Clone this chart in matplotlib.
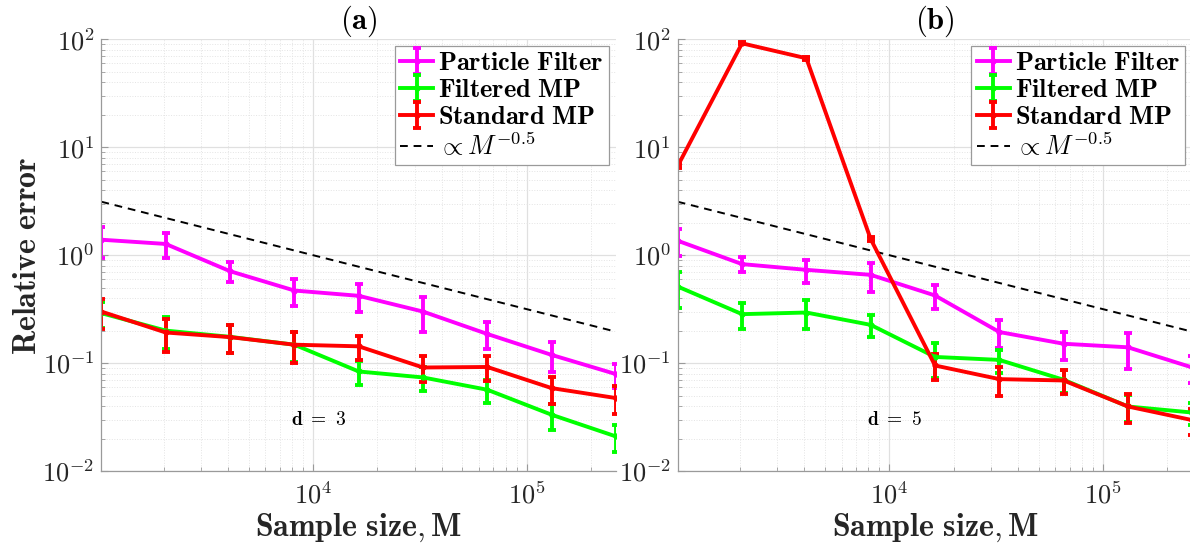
import matplotlib
matplotlib.use("Agg")
import matplotlib.pyplot as plt
import numpy as np
from matplotlib.ticker import FuncFormatter, LogLocator, NullFormatter

plt.rcParams['mathtext.fontset'] = 'cm'
plt.rcParams['font.family'] = 'serif'
plt.rcParams['font.serif'] = ['cmr10', 'DejaVu Serif']
plt.rcParams['axes.unicode_minus'] = False

# sample sizes
M = [1024, 2048, 4096, 8192, 16384, 32768, 65536, 131072, 262144]

# (a) d = 3
pf_a = [1.39, 1.27, 0.71, 0.47, 0.42, 0.30, 0.186, 0.119, 0.079]
pf_a_err = [0.45, 0.33, 0.15, 0.135, 0.12, 0.106, 0.052, 0.037, 0.02]
fmp_a = [0.29, 0.20, 0.175, 0.148, 0.0836, 0.0736, 0.0566, 0.0332, 0.0209]
fmp_a_err = [0.08, 0.065, 0.05, 0.045, 0.021, 0.019, 0.0135, 0.009, 0.0058]
sm_a = [0.30, 0.192, 0.174, 0.148, 0.143, 0.091, 0.092, 0.0586, 0.0474]
sm_a_err = [0.093, 0.066, 0.05, 0.048, 0.037, 0.0245, 0.0245, 0.0164, 0.0134]

# (b) d = 5
pf_b = [1.36, 0.826, 0.731, 0.657, 0.423, 0.194, 0.151, 0.14, 0.091]
pf_b_err = [0.38, 0.126, 0.18, 0.197, 0.104, 0.055, 0.045, 0.051, 0.025]
fmp_b = [0.512, 0.284, 0.294, 0.226, 0.114, 0.107, 0.07, 0.0396, 0.0348]
fmp_b_err = [0.187, 0.077, 0.087, 0.051, 0.041, 0.026, 0.017, 0.011, 0.008]
sm_b = [6.7, 91.8, 66.7, 1.41, 0.095, 0.071, 0.069, 0.0396, 0.0296]
sm_b_err = [0.3, 2.0, 2.0, 0.05, 0.0255, 0.021, 0.0178, 0.012, 0.008]

ref_const = 100.0  # reference line: ref_const * M^-0.5

txt = '#262626'
panels = [
    ('(a)', 'd\\ =\\ 3', pf_a, pf_a_err, fmp_a, fmp_a_err, sm_a, sm_a_err),
    ('(b)', 'd\\ =\\ 5', pf_b, pf_b_err, fmp_b, fmp_b_err, sm_b, sm_b_err),
]

fig = plt.figure(figsize=(11.9, 5.45), dpi=100)
W, H = 1190.0, 545.0
lefts = [101.4, 677.7]
for i, (title, dlabel, pf, pfe, fmp, fmpe, sm, sme) in enumerate(panels):
    ax = fig.add_axes([lefts[i] / W, (H - 471.0) / H, 514.6 / W, 431.7 / H])
    ax.set_xscale('log')
    ax.set_yscale('log')

    ekw = dict(lw=2.8, elinewidth=2.8, capsize=2.6, capthick=2.8, marker='o', ms=3.5)
    h1 = ax.errorbar(M, pf, yerr=pfe, color=(1, 0, 1), label=r'$\mathbf{Particle\ Filter}$', **ekw)
    h2 = ax.errorbar(M, fmp, yerr=fmpe, color=(0, 1, 0), label=r'$\mathbf{Filtered\ MP}$', **ekw)
    h3 = ax.errorbar(M, sm, yerr=sme, color=(1, 0, 0), label=r'$\mathbf{Standard\ MP}$', **ekw)
    Ma = np.array(M, dtype=float)
    h4, = ax.plot(Ma, ref_const * Ma ** -0.5, color='k', lw=1.4, ls=(0, (4, 3)),
                  label=r'$\propto M^{-0.5}$')

    ax.set_xlim(1024, 262144)
    ax.set_ylim(1e-2, 1e2)

    ax.xaxis.set_major_locator(LogLocator(base=10))
    ax.xaxis.set_minor_locator(LogLocator(base=10, subs=np.arange(2, 10)))
    ax.yaxis.set_major_locator(LogLocator(base=10))
    ax.yaxis.set_minor_locator(LogLocator(base=10, subs=np.arange(2, 10)))
    fmt = FuncFormatter(lambda v, p: r'$10^{%d}$' % int(round(np.log10(v))))
    ax.xaxis.set_major_formatter(fmt)
    ax.yaxis.set_major_formatter(fmt)
    ax.xaxis.set_minor_formatter(NullFormatter())
    ax.yaxis.set_minor_formatter(NullFormatter())

    ax.grid(True, which='major', color='#e0e0e0', lw=0.9, ls='-')
    ax.grid(True, which='minor', color='#e4e4e4', lw=0.7, ls=':')
    ax.set_axisbelow(True)
    for s in ['top', 'right']:
        ax.spines[s].set_visible(False)
    for s in ['left', 'bottom']:
        ax.spines[s].set_color('#9a9a9a')
        ax.spines[s].set_linewidth(0.9)
    ax.tick_params(which='both', direction='in', color='#9a9a9a', labelcolor=txt,
                   labelsize=19, pad=5)
    ax.tick_params(axis='x', which='major', pad=8)
    ax.tick_params(which='major', length=5)
    ax.tick_params(which='minor', length=3)

    ax.set_title(r'$\mathbf{%s}$' % title, fontsize=22, color='k', pad=7)
    ax.set_xlabel(r'$\mathbf{Sample\ size, M}$', fontsize=23, color=txt, labelpad=2)
    if i == 0:
        ax.set_ylabel(r'$\mathbf{Relative\ error}$', fontsize=23, color=txt, labelpad=0)
    ax.text(0.422, 0.118, r'$\mathbf{%s}$' % dlabel, transform=ax.transAxes,
            ha='center', va='center', fontsize=14, color='k')

    leg = ax.legend([h1, h2, h3, h4], [h.get_label() for h in [h1, h2, h3, h4]],
                    loc='upper right', fontsize=19, frameon=True, fancybox=False,
                    framealpha=1, edgecolor='#9a9a9a', borderaxespad=0.27,
                    handlelength=1.25, handletextpad=0.2, labelspacing=0.12,
                    borderpad=0.2)
    leg.get_frame().set_linewidth(0.9)

fig.savefig('out.png', dpi=100)
